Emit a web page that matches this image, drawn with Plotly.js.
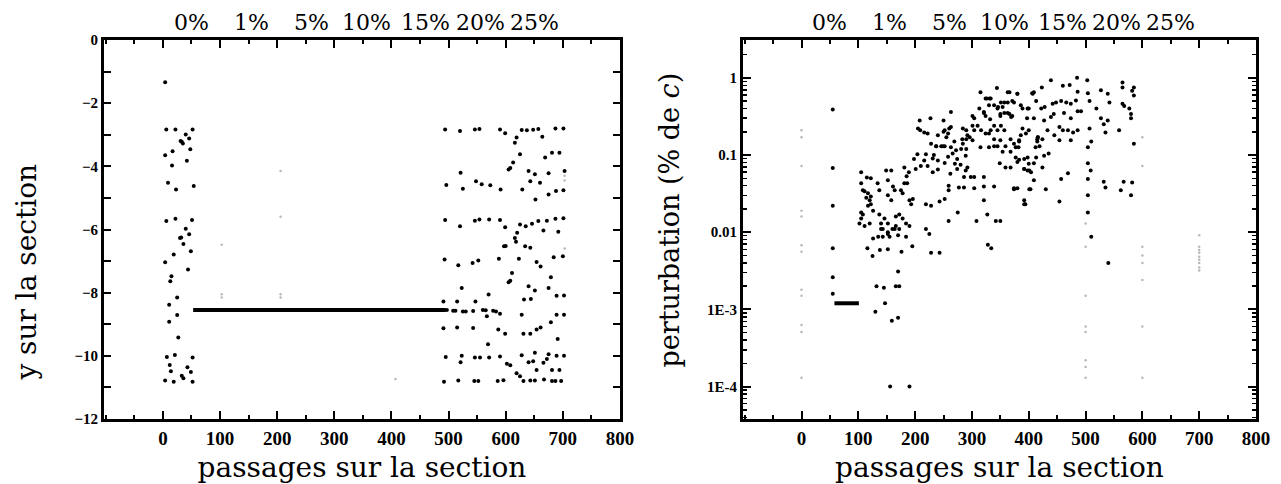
<!DOCTYPE html>
<html>
<head>
<meta charset="utf-8">
<script src="https://cdn.plot.ly/plotly-3.0.1.min.js"></script>
<style>
  html, body { margin: 0; padding: 0; background: #fff; }
  #chart { width: 1281px; height: 484px; }
</style>
</head>
<body>
<div id="chart"></div>
<script>
// ---- Left panel: position y on the section vs. number of passages ----
const secX = [
  4, 6, 22, 52, 40, 46, 33, 35, 31, 48, 4, 17, 16, 42, 9, 23, 54,
  6, 22, 51, 40, 46, 30, 32, 36, 49, 19, 4, 44, 15, 13, 25, 11, 25, 11, 27,
  7, 21, 52, 12, 43, 14, 49, 33, 36, 4, 19, 52,
  494, 520, 546, 554, 590, 628, 637, 648, 657, 687, 701,
  599, 664, 619, 616, 625, 669, 681, 694, 613, 605, 608, 521, 640, 651, 675, 703,
  643, 660, 496, 525, 548, 558, 573, 591, 629, 652, 675, 688, 701,
  494, 520, 546, 554, 571, 590, 625, 635, 646, 657, 672, 687, 701,
  599, 666, 692, 620, 616, 618, 597, 600, 634, 643, 493, 517, 542, 552, 588, 623,
  654, 661, 684, 700, 611, 679, 605, 608, 523, 640, 651, 675, 570, 632, 644, 689, 702,
  491, 515, 547, 497, 508, 512, 525, 530, 543, 560, 565, 578, 583, 567, 590, 628, 689, 702,
  491, 515, 543, 587, 599, 631, 643, 654, 661, 679, 691, 569,
  495, 523, 546, 555, 571, 590, 628, 651, 675, 689, 702,
  521, 602, 608, 640, 648, 666, 672, 619, 625, 654, 681, 694,
  492, 517, 545, 552, 586, 596, 631, 643, 651, 667, 681, 687, 697
];
const secY = [
  -1.34, -2.83, -2.83, -2.83, -2.99, -3.12, -3.22, -3.28, -3.20, -3.46, -3.65, -3.52, -3.97, -3.82, -4.52, -4.73, -4.62,
  -5.73, -5.66, -5.70, -5.98, -6.15, -6.27, -6.25, -6.46, -6.69, -6.79, -7.04, -7.27, -7.48, -7.64, -8.15, -8.38, -8.71, -8.92, -9.42,
  -10.04, -9.97, -10.05, -10.29, -10.36, -10.49, -10.51, -10.63, -10.71, -10.78, -10.82, -10.82,
  -2.83, -2.88, -2.83, -2.82, -2.83, -2.85, -2.86, -2.84, -2.82, -2.80, -2.80,
  -2.95, -3.06, -3.09, -3.25, -3.62, -3.72, -3.57, -3.57, -3.88, -4.10, -4.05, -4.20, -4.15, -4.25, -4.22, -4.15,
  -4.47, -4.52, -4.59, -4.71, -4.47, -4.57, -4.60, -4.73, -4.73, -5.05, -4.89, -4.78, -4.76,
  -5.70, -5.90, -5.72, -5.68, -5.68, -5.70, -5.84, -5.90, -5.82, -5.73, -5.72, -5.66, -5.64,
  -5.93, -6.03, -6.07, -6.10, -6.27, -6.39, -6.53, -6.52, -6.53, -6.58, -6.95, -7.13, -7.06, -6.98, -6.93, -6.93,
  -7.03, -7.17, -6.88, -6.85, -7.38, -7.51, -7.67, -7.62, -7.85, -7.80, -7.93, -7.85, -8.06, -8.22, -8.20, -8.10, -8.09,
  -8.28, -8.28, -8.28, -8.55, -8.57, -8.57, -8.60, -8.60, -8.58, -8.55, -8.56, -8.57, -8.60, -8.75, -8.67, -8.70, -8.70, -8.70,
  -9.13, -9.10, -9.12, -9.17, -9.30, -9.30, -9.30, -9.17, -9.10, -8.94, -9.47, -9.63,
  -10.04, -10.00, -10.05, -10.05, -10.05, -10.02, -9.98, -9.90, -9.95, -10.00, -10.00,
  -10.20, -10.25, -10.30, -10.20, -10.17, -10.22, -10.10, -10.55, -10.65, -10.45, -10.45, -10.45,
  -10.82, -10.78, -10.80, -10.80, -10.80, -10.77, -10.80, -10.78, -10.78, -10.75, -10.80, -10.80, -10.80
];
// long run of passages sitting on the fixed point
const fixX = [53, 495];
const fixY = [-8.55, -8.55];
// barely visible passages
const secFaintX = [103, 103, 103, 206, 206, 206, 206, 407, 703, 703, 703];
const secFaintY = [-6.48, -8.05, -8.15, -4.15, -5.60, -8.05, -8.15, -10.73, -4.30, -4.45, -6.60];

// ---- Right panel: perturbation (% of c) vs. number of passages ----
const pertX = [
  55, 55, 55, 55, 55, 55,
  105, 115, 122, 105, 108, 111, 117, 122, 120, 114, 134, 137, 152, 158, 149, 181, 122, 117,
  105, 108, 105, 102, 111, 120, 126, 137, 146, 140, 152, 143, 140, 152, 164,
  126, 135, 143, 155, 116, 125, 138, 152, 176, 132, 145, 166, 172, 170, 130, 147, 159, 170, 156, 190,
  161, 164, 152, 158, 190, 196, 193, 219, 228, 243, 252, 166, 172, 178, 184, 190,
  166, 172, 160, 152, 170, 184, 195, 219, 225, 259, 275, 308, 228, 243,
  175, 178, 181, 186, 189, 185, 201, 210, 231, 240,
  198, 204, 219, 216, 222, 240, 252, 258, 246, 237, 252, 263, 272, 266, 281, 290, 284, 290,
  205, 209, 216, 222, 208, 227, 250, 263, 240, 255,
  283, 292, 301, 304, 301, 310, 316, 324, 333, 345,
  301, 304, 313, 321, 330, 339, 345, 351, 363, 371, 386, 400, 397,
  315, 324, 333, 344, 366, 380, 406,
  339, 354, 368, 377, 383, 386, 400, 415,
  326, 331, 354, 357, 366, 371, 346, 350, 321, 324, 332, 339, 351,
  284, 290, 296, 330, 339, 345, 368, 383, 416, 419, 413, 383, 392, 400,
  392, 398, 404, 368, 349, 374, 380, 403, 392, 394, 321, 304, 339, 321,
  327, 342, 350, 328, 334, 277, 286, 259, 259, 262, 274, 289, 292, 286, 298, 304, 321,
  270, 280, 274, 289, 315, 330, 228, 237, 249, 233, 231, 250, 252, 258, 269, 263, 260,
  363, 380, 409, 407, 423, 439, 460, 472, 485, 503, 486, 504, 527, 539, 565, 565, 585, 582, 585,
  357, 374, 389, 398, 413, 422, 428, 442, 448, 457, 466, 474, 483, 492, 507, 519, 542, 565, 568, 577, 580,
  350, 363, 369, 409, 427, 439, 444, 462, 474, 486, 527, 539, 580,
  357, 389, 395, 416, 433, 445, 454, 460, 469, 478, 486, 507, 532, 535, 559,
  350, 359, 374, 382, 412, 415, 424, 454, 474, 504, 510, 585,
  377, 398, 380, 427, 435, 409, 424, 504, 509,
  359, 392, 401, 469, 457, 504, 532, 535, 567, 582, 562, 580,
  374, 401, 409, 430, 454, 392, 504, 504, 510, 540
];
const pertY = [
  0.39, 0.068, 0.022, 0.0062, 0.0026, 0.0016,
  0.060, 0.051, 0.050, 0.043, 0.035, 0.034, 0.032, 0.029, 0.026, 0.028, 0.043, 0.035, 0.047, 0.063, 0.063, 0.069, 0.023, 0.022,
  0.018, 0.017, 0.015, 0.013, 0.012, 0.013, 0.019, 0.017, 0.015, 0.013, 0.013, 0.011, 0.011, 0.010, 0.011,
  0.0083, 0.0087, 0.0087, 0.0087, 0.0062, 0.0049, 0.0059, 0.0060, 0.0056, 0.0020, 0.0019, 0.0020, 0.0020, 0.0031, 0.00093, 0.0012, 0.00071, 0.00078, 0.0001, 0.0001,
  0.039, 0.035, 0.030, 0.026, 0.026, 0.027, 0.023, 0.023, 0.022, 0.025, 0.027, 0.016, 0.017, 0.015, 0.013, 0.012,
  0.012, 0.011, 0.011, 0.0095, 0.0091, 0.0087, 0.0066, 0.011, 0.0095, 0.014, 0.018, 0.014, 0.0054, 0.0054,
  0.035, 0.032, 0.043, 0.043, 0.060, 0.053, 0.066, 0.072, 0.060, 0.065,
  0.089, 0.102, 0.102, 0.085, 0.072, 0.085, 0.079, 0.095, 0.13, 0.13, 0.13, 0.126, 0.115, 0.105, 0.12, 0.12, 0.14, 0.16,
  0.22, 0.21, 0.195, 0.19, 0.28, 0.30, 0.28, 0.36, 0.18, 0.17,
  0.16, 0.18, 0.155, 0.21, 0.24, 0.24, 0.21, 0.19, 0.21, 0.21,
  0.32, 0.30, 0.40, 0.35, 0.44, 0.44, 0.40, 0.48, 0.48, 0.50, 0.44, 0.40, 0.30,
  0.65, 0.54, 0.54, 0.74, 0.65, 0.62, 0.63,
  0.13, 0.11, 0.11, 0.126, 0.15, 0.18, 0.21, 0.16,
  0.54, 0.54, 0.42, 0.35, 0.34, 0.32, 0.42, 0.32, 0.36, 0.32, 0.29, 0.24, 0.24,
  0.22, 0.21, 0.17, 0.19, 0.16, 0.13, 0.16, 0.155, 0.17, 0.13, 0.093, 0.087, 0.089, 0.077,
  0.066, 0.063, 0.060, 0.069, 0.078, 0.037, 0.037, 0.036, 0.026, 0.023, 0.039, 0.037, 0.039, 0.026,
  0.017, 0.014, 0.014, 0.0069, 0.0062, 0.038, 0.038, 0.040, 0.035, 0.057, 0.066, 0.063, 0.069, 0.052, 0.052, 0.052, 0.052,
  0.077, 0.075, 0.089, 0.098, 0.126, 0.126, 0.14, 0.13, 0.13, 0.10, 0.09, 0.20, 0.21, 0.19, 0.15, 0.23, 0.22,
  0.65, 0.62, 0.65, 0.62, 0.75, 0.93, 0.79, 0.81, 1.0, 0.93, 0.66, 0.63, 0.69, 0.62, 0.87, 0.75, 0.75, 0.68, 0.59,
  0.48, 0.48, 0.40, 0.40, 0.50, 0.40, 0.42, 0.46, 0.48, 0.50, 0.48, 0.46, 0.51, 0.37, 0.50, 0.40, 0.48, 0.46, 0.43, 0.40, 0.34,
  0.34, 0.35, 0.31, 0.30, 0.28, 0.31, 0.34, 0.35, 0.30, 0.37, 0.30, 0.28, 0.30,
  0.21, 0.22, 0.19, 0.17, 0.21, 0.18, 0.23, 0.21, 0.21, 0.195, 0.21, 0.22, 0.25, 0.195, 0.21,
  0.155, 0.13, 0.14, 0.126, 0.126, 0.15, 0.16, 0.155, 0.155, 0.126, 0.15, 0.14,
  0.093, 0.093, 0.081, 0.098, 0.105, 0.078, 0.069, 0.078, 0.063,
  0.069, 0.066, 0.063, 0.058, 0.049, 0.049, 0.045, 0.038, 0.045, 0.044, 0.035, 0.030,
  0.036, 0.036, 0.047, 0.036, 0.025, 0.023, 0.030, 0.018, 0.0087, 0.0040
];
// plateau right after the perturbation is switched on
const plateauX = [58, 101];
const plateauY = [0.0012, 0.0012];
// barely visible passages
const pertFaintX = [
  0, 0, 0, 0, 0, 0, 0, 0, 0, 0, 0, 0,
  500, 500, 500, 500, 500, 500, 500, 500,
  600, 600, 600, 600, 600, 600, 600, 600,
  700, 700, 700, 700, 700, 700, 700, 700, 700
];
const pertFaintY = [
  0.21, 0.17, 0.072, 0.019, 0.016, 0.0068, 0.0056, 0.0018, 0.0015, 0.00063, 0.00051, 0.00013,
  0.013, 0.0065, 0.0015, 0.0006, 0.00051, 0.00022, 0.00018, 0.00013,
  0.17, 0.072, 0.0065, 0.005, 0.004, 0.0024, 0.0006, 0.00013,
  0.0091, 0.0065, 0.0059, 0.0054, 0.0048, 0.0044, 0.004, 0.0035, 0.0032
];

// ---- labels ----
const phaseLabels = ['0%', '1%', '5%', '10%', '15%', '20%', '25%'];
const phaseAt = [50, 155, 260, 357, 460, 555, 650];
const xTicks = [0, 100, 200, 300, 400, 500, 600, 700, 800];
const pertTicks = [1, 0.1, 0.01, 0.001, 0.0001];
const pertTickText = ['1', '0.1', '0.01', '1E-3', '1E-4'];

// minor ticks of the log axis: 2..9 in every decade
const pertMinor = [];
for (let e = -5; e <= 0; e++) {
  for (let m = 2; m <= 9; m++) pertMinor.push(m * Math.pow(10, e));
}

const serif = 'DejaVu Serif, Liberation Serif, serif';
const tickFont = (s) => ({ family: 'Liberation Serif, serif', size: s, color: '#000', weight: 700 });

const dot = { color: '#000', size: 4 };
const faint = { color: '#b8b8b8', size: 2.5 };

const traces = [
  { x: fixX, y: fixY, xaxis: 'x', yaxis: 'y', mode: 'lines', line: { color: '#000', width: 4 }, hoverinfo: 'skip' },
  { x: secFaintX, y: secFaintY, xaxis: 'x', yaxis: 'y', mode: 'markers', marker: faint },
  { x: secX, y: secY, xaxis: 'x', yaxis: 'y', mode: 'markers', marker: dot },
  { x: plateauX, y: plateauY, xaxis: 'x2', yaxis: 'y2', mode: 'lines', line: { color: '#000', width: 4 }, hoverinfo: 'skip' },
  { x: pertFaintX, y: pertFaintY, xaxis: 'x2', yaxis: 'y2', mode: 'markers', marker: faint },
  { x: pertX, y: pertY, xaxis: 'x2', yaxis: 'y2', mode: 'markers', marker: dot }
];

const frame = {
  showline: true, linecolor: '#000', linewidth: 3, mirror: 'allticks',
  ticks: 'inside', tickcolor: '#000', tickwidth: 2,
  showgrid: false, zeroline: false, automargin: false, fixedrange: true
};

const xAxisBase = Object.assign({}, frame, {
  range: [-103, 800], tickmode: 'array', tickvals: xTicks, ticklen: 8,
  minor: { ticks: 'inside', dtick: 50, ticklen: 4, tickwidth: 2, tickcolor: '#000', showgrid: false },
  tickfont: tickFont(19),
  title: { text: 'passages sur la section', font: { family: serif, size: 28, color: '#000' }, standoff: 10 }
});

const annotations = [];
phaseLabels.forEach((t, i) => {
  ['x', 'x2'].forEach((ax) => {
    annotations.push({
      text: t, x: phaseAt[i], xref: ax, y: 1, yref: 'paper',
      yanchor: 'bottom', yshift: 3, showarrow: false,
      font: { family: serif, size: 22, color: '#000' }
    });
  });
});
// vertical axis titles
annotations.push({
  text: 'y sur la section', textangle: -90, showarrow: false,
  xref: 'paper', x: 27 / 1281, xanchor: 'center',
  yref: 'paper', y: (419 - 273) / 378, yanchor: 'middle',
  font: { family: serif, size: 28, color: '#000' }
});
annotations.push({
  text: 'perturbation (% de <i>c</i>)', textangle: -90, showarrow: false,
  xref: 'paper', x: 669 / 1281, xanchor: 'center',
  yref: 'paper', y: (419 - 221) / 378, yanchor: 'middle',
  font: { family: serif, size: 27, color: '#000' }
});

const layout = {
  width: 1281, height: 484,
  margin: { l: 0, r: 0, t: 40, b: 65 },
  paper_bgcolor: '#fff', plot_bgcolor: '#fff',
  showlegend: false,
  xaxis: Object.assign({}, xAxisBase, { domain: [0.0812, 0.4840], anchor: 'y' }),
  yaxis: Object.assign({}, frame, {
    domain: [0, 1], anchor: 'x', range: [-12, 0], dtick: 2, ticklen: 7,
    minor: { ticks: 'inside', dtick: 1, ticklen: 7, tickwidth: 2, tickcolor: '#000', showgrid: false },
    tickfont: tickFont(15)
  }),
  xaxis2: Object.assign({}, xAxisBase, { domain: [0.5800, 0.9805], anchor: 'y2' }),
  yaxis2: Object.assign({}, frame, {
    domain: [0, 1], anchor: 'x2', type: 'log', range: [-4.42, 0.49],
    tickmode: 'array', tickvals: pertTicks, ticktext: pertTickText, ticklen: 8,
    minor: { ticks: 'inside', tickmode: 'array', tickvals: pertMinor, ticklen: 4, tickwidth: 1.5, tickcolor: '#000', showgrid: false },
    tickfont: tickFont(15)
  }),
  annotations: annotations
};

Plotly.newPlot('chart', traces, layout, { staticPlot: true, displayModeBar: false });
</script>
</body>
</html>
